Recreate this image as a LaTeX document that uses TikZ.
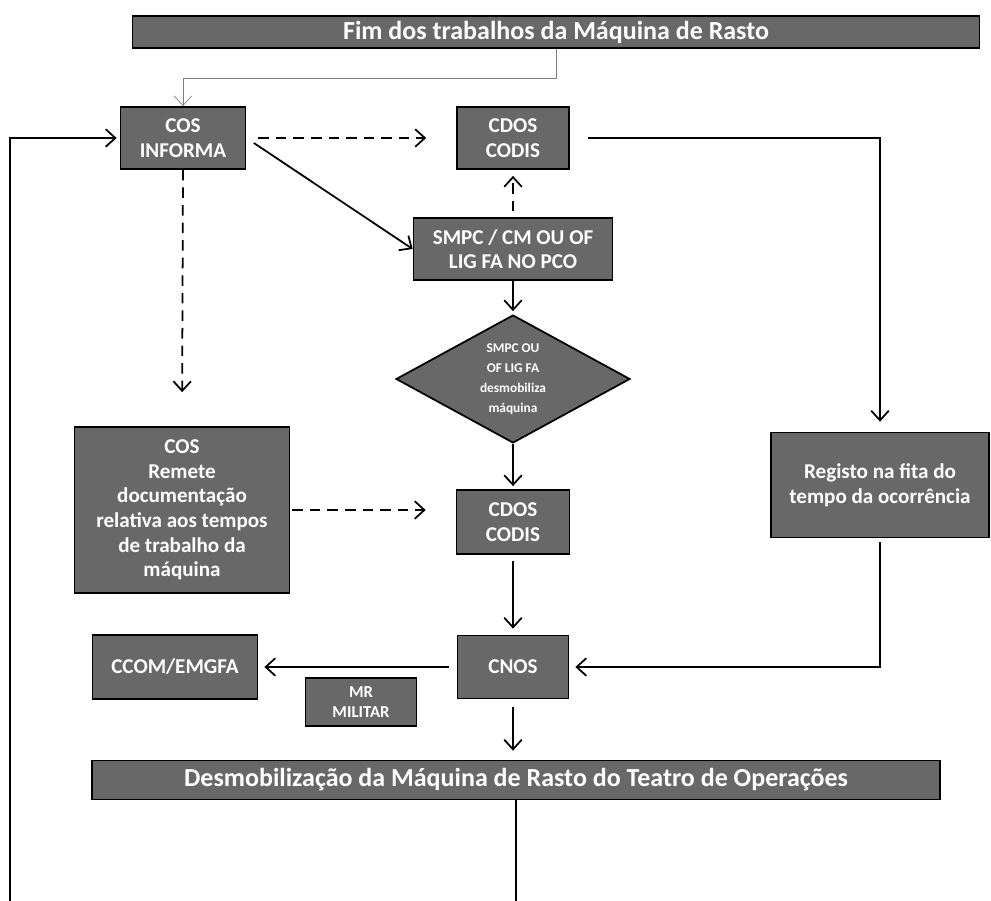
\documentclass[tikz,border=0pt]{standalone}
\usepackage{fontspec}
\setmainfont{Carlito}
\usetikzlibrary{arrows.meta,shapes.geometric}
\definecolor{boxgray}{RGB}{104,104,104}
\begin{document}
\begin{tikzpicture}[x=.02cm,y=-.02cm,line width=1pt,
  b/.style={draw=black,fill=boxgray,text=white,font=\bfseries\fontsize{12}{14}\selectfont,align=center,inner sep=0pt},
  bar/.style={b,font=\bfseries\fontsize{14.8}{16}\selectfont},
  dec/.style={b,diamond,aspect=1.8,font=\bfseries\fontsize{7.6}{11.5}\selectfont},
  a/.style={-{Straight Barb[length=5.5pt,width=10pt]}},
  d/.style={a,dash pattern=on 6pt off 4pt}]
  \useasboundingbox (0,0) rectangle (991,901);
  \node[bar,minimum width=16.94cm,minimum height=.64cm] (fim) at (556,32) {Fim dos trabalhos da Máquina de Rasto};
  \node[b,minimum width=2.5cm,minimum height=1.24cm]   (cos)   at (183,138) {COS\\INFORMA};
  \node[b,minimum width=2.24cm,minimum height=1.24cm]  (cdosA) at (513,138) {CDOS\\CODIS};
  \node[b,minimum width=3.98cm,minimum height=1.24cm]  (smpc)  at (513,249) {SMPC / CM OU OF\\LIG FA NO PCO};
  \node[dec,minimum width=4.68cm,minimum height=2.56cm] (desm) at (513,379) {SMPC OU\\OF LIG FA\\desmobiliza\\máquina};
  \node[b,minimum width=4.3cm,minimum height=3.32cm]   (rem)   at (182,510) {COS\\Remete\\documentação\\relativa aos tempos\\de trabalho da\\máquina};
  \node[b,minimum width=2.26cm,minimum height=1.28cm]  (cdosB) at (513,522) {CDOS\\CODIS};
  \node[b,minimum width=4.36cm,minimum height=2.1cm]   (reg)   at (880,485) {Registo na fita do\\tempo da ocorrência};
  \node[b,minimum width=2.22cm,minimum height=1.26cm]  (cnos)  at (513,667) {CNOS};
  \node[b,minimum width=3.3cm,minimum height=1.28cm]   (ccom)  at (175,667) {CCOM/EMGFA};
  \node[b,minimum width=2.22cm,minimum height=.96cm,font=\bfseries\fontsize{9.5}{11}\selectfont] (mr) at (361,702) {MR\\MILITAR};
  \node[bar,minimum width=16.96cm,minimum height=.78cm] (desmob) at (516,780) {Desmobilização da Máquina de Rasto do Teatro de Operações};
  \coordinate (fimB) at (516,901);
  \coordinate (volta) at (10,901);
  % ligacoes
  \draw[a,line width=.4pt,gray] (fim.south) -- ++(0,29) -| (cos.north);
  \draw[d,shorten <=12pt/1.76,shorten >=30pt/1.76] (cos.east) -- (cdosA.west);
  \draw[a,shorten <=9pt/1.76] (cos.east) -- (smpc.west);
  \draw[d,shorten <=6pt/1.76,shorten >=6pt/1.76] (smpc.north) -- (cdosA.south);
  \draw[a,shorten <=18pt/1.76,shorten >=10pt/1.76] (cdosA.east) -| (reg.north);
  \draw[a,shorten >=3pt/1.76] (smpc.south) -- (desm.north);
  \draw[a,shorten >=3pt/1.76] (desm.south) -- (cdosB.north);
  \draw[d,shorten <=2pt/1.76,shorten >=30pt/1.76] (rem.east) -- (rem.east -| cdosB.west);
  \draw[d,shorten >=34pt/1.76] (cos.south) -- (rem.north);
  \draw[a,shorten <=6pt/1.76,shorten >=6pt/1.76] (cdosB.south) -- (cnos.north);
  \draw[a,shorten <=4pt/1.76,shorten >=6pt/1.76] (reg.south) |- (cnos.east);
  \draw[a,shorten <=8pt/1.76,shorten >=6pt/1.76] (cnos.west) -- (ccom.east);
  \draw[a,shorten <=8pt/1.76,shorten >=9pt/1.76] (cnos.south) -- (cnos.south |- desmob.north);
  \draw (desmob.south) -- (fimB);
  \draw[a,shorten >=3pt/1.76] (volta) |- (cos.west);
\end{tikzpicture}
\end{document}
